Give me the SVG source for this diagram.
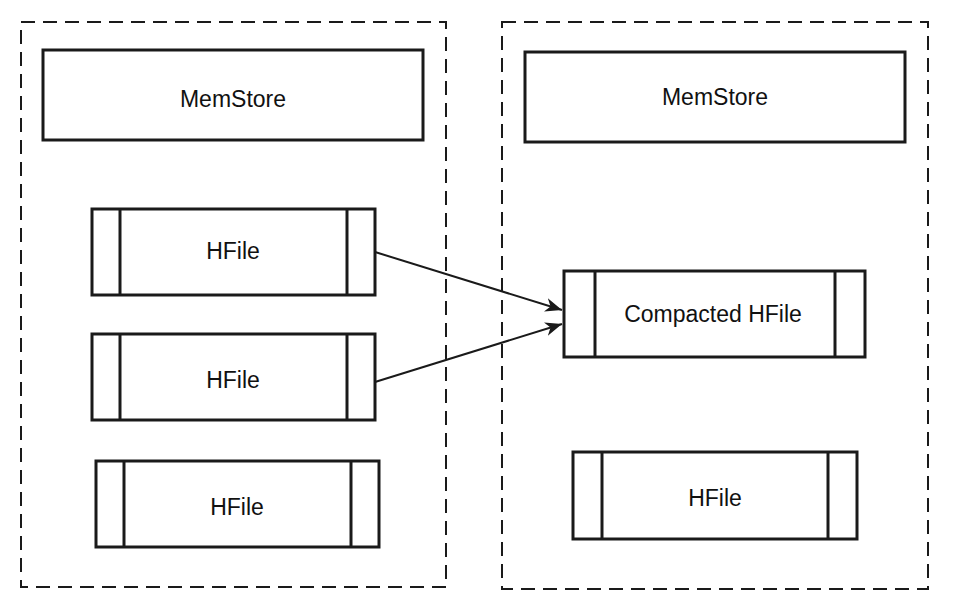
<svg xmlns="http://www.w3.org/2000/svg" width="968" height="608" viewBox="0 0 968 608">
<style>
.grp{fill:none;stroke:#1a1a1a;stroke-width:2;stroke-dasharray:14 8}
.box{fill:#fff;stroke:#1a1a1a;stroke-width:3}
.bar{stroke:#1a1a1a;stroke-width:3}
.lbl{font-family:"Liberation Sans",Arial,sans-serif;font-size:23px;fill:#111;text-anchor:middle}
.edge{stroke:#1a1a1a;stroke-width:2;fill:none}
</style>
<defs>
<marker id="arr" markerWidth="18" markerHeight="14" refX="17" refY="7" orient="auto" markerUnits="userSpaceOnUse">
<path d="M0,0 L17,7 L0,14 L5,7 Z" fill="#1a1a1a"/>
</marker>
</defs>
<rect width="968" height="608" fill="#fff"/>
<g id="region-left"><rect class="grp" x="21" y="22" width="425" height="565"/></g>
<g id="region-right"><rect class="grp" x="502" y="22" width="426" height="567"/></g>
<g id="memstore-left"><rect class="box" x="43" y="50" width="380" height="90"/><text class="lbl" x="233" y="107">MemStore</text></g>
<g id="memstore-right"><rect class="box" x="525" y="52" width="380" height="90"/><text class="lbl" x="715" y="105">MemStore</text></g>
<g id="hfile-1"><rect class="box" x="92" y="209" width="283" height="86"/><line class="bar" x1="120" y1="209" x2="120" y2="295"/><line class="bar" x1="347" y1="209" x2="347" y2="295"/><text class="lbl" x="233" y="259">HFile</text></g>
<g id="hfile-2"><rect class="box" x="92" y="334" width="283" height="86"/><line class="bar" x1="120" y1="334" x2="120" y2="420"/><line class="bar" x1="347" y1="334" x2="347" y2="420"/><text class="lbl" x="233" y="388">HFile</text></g>
<g id="hfile-3"><rect class="box" x="96" y="461" width="283" height="86"/><line class="bar" x1="124" y1="461" x2="124" y2="547"/><line class="bar" x1="351" y1="461" x2="351" y2="547"/><text class="lbl" x="237" y="515">HFile</text></g>
<g id="compacted-hfile"><rect class="box" x="564" y="271" width="301" height="86"/><line class="bar" x1="595" y1="271" x2="595" y2="357"/><line class="bar" x1="835" y1="271" x2="835" y2="357"/><text class="lbl" x="713" y="322">Compacted HFile</text></g>
<g id="hfile-right"><rect class="box" x="573" y="452" width="284" height="87"/><line class="bar" x1="602" y1="452" x2="602" y2="539"/><line class="bar" x1="828" y1="452" x2="828" y2="539"/><text class="lbl" x="715" y="506">HFile</text></g>
<g id="connectors">
<line class="edge" x1="375" y1="252" x2="562" y2="310" marker-end="url(#arr)"/>
<line class="edge" x1="375" y1="382" x2="562" y2="324" marker-end="url(#arr)"/>
</g>
</svg>
